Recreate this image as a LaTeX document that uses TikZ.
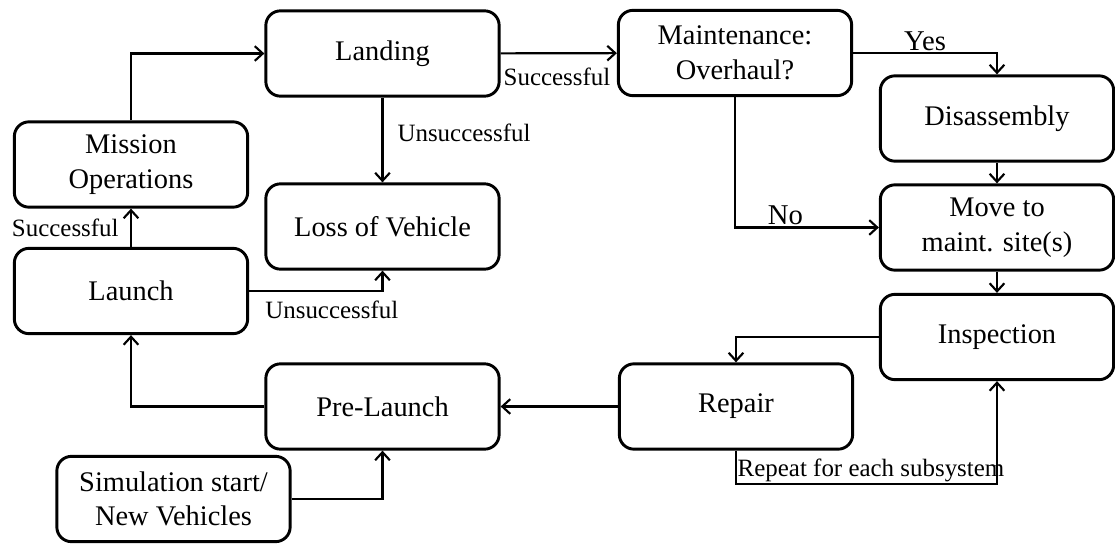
\documentclass[tikz,border=0pt]{standalone}
\usepackage{fontspec}
\setmainfont{Liberation Serif}
\usetikzlibrary{arrows.meta,positioning}

\tikzset{
  block/.style={draw, line width=2.2pt, rounded corners=11pt, minimum width=175pt,
    minimum height=64pt, align=center, inner sep=2pt, font=\fontsize{21.3}{26}\selectfont},
  flow/.style={line width=1.6pt, -{Straight Barb[length=6pt,width=11pt]}},
  note/.style={inner sep=0.5pt, font=\fontsize{18.7}{22}\selectfont},
  answer/.style={inner sep=1pt, font=\fontsize{21.5}{26}\selectfont},
}

\begin{document}
\begin{tikzpicture}[x=0.75pt, y=-0.75pt]
  \useasboundingbox (0,0) rectangle (1115,544);

  \node[block] (mission) at (131,164.5) {Mission\\Operations};
  \node[block] (landing) at (382.5,53.5) {Landing};
  \node[block] (maint) at (735,53) {Maintenance:\\Overhaul?};
  \node[block] (disasm) at (997,118.5) {Disassembly};
  \node[block] (loss) at (382.5,226.5) {Loss of Vehicle};
  \node[block] (move) at (997,227.5) {Move to\\maint. site(s)};
  \node[block] (launch) at (131,291) {Launch};
  \node[block] (inspect) at (997,337) {Inspection};
  \node[block] (prelaunch) at (382.5,406.5) {Pre-Launch};
  \node[block] (repair) at (736,406.5) {Repair};
  \node[block] (sim) at (173.5,499) {Simulation start/\\New Vehicles};

  \draw[flow] (mission.north) |- (landing.west);
  \draw[flow] (launch) -- node[note, left=8pt] {Successful} (mission);
  \draw[flow] (landing) -- node[note, right=10pt, pos=0.41] {Unsuccessful} (loss);
  \draw[flow] (landing) -- node[note, below right=10pt and 1pt, pos=0] {Successful} (maint);
  \draw[flow] (maint.east) -| node[answer, above, pos=0.25] {Yes} (disasm.north);
  \draw[flow] (maint.south) |- node[answer, above, pos=0.675] {No} (move.west);
  \draw[flow] (disasm) -- (move);
  \draw[flow] (move) -- (inspect);
  \draw[flow] (inspect.west) -| (repair.north);
  \draw[flow] (repair.south) -- ++(0,33) -| node[note, above right, pos=0] {Repeat for each subsystem} (inspect.south);
  \draw[flow] (repair) -- (prelaunch);
  \draw[flow] (prelaunch.west) -| (launch.south);
  \draw[flow] (sim.east) -| (prelaunch.south);
  \draw[flow] (launch.east) -| node[note, below=6pt, pos=0.31] {Unsuccessful} (loss.south);
\end{tikzpicture}
\end{document}
